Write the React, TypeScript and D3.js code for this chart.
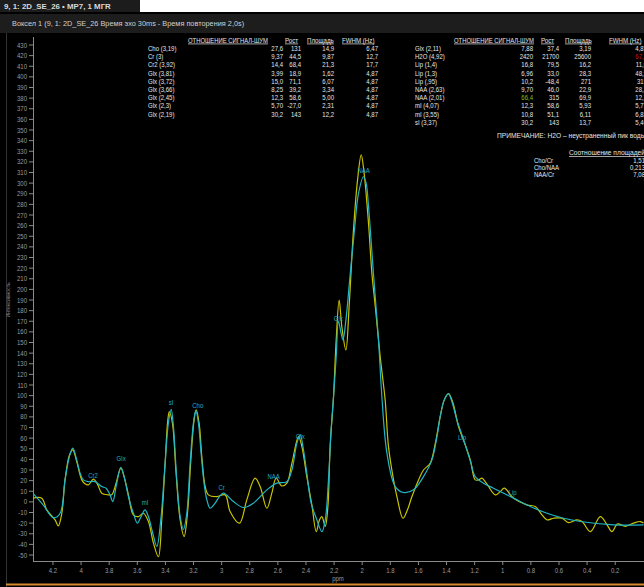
import React from "react";
import * as d3 from "d3";

// ---------- DATA ----------
const fitPpm = [4.342, 4.27, 4.197, 4.149, 4.114, 4.083, 4.059, 4.031, 4.007, 3.984, 3.948, 3.9, 3.853, 3.822, 3.794, 3.774, 3.751, 3.717, 3.694, 3.663, 3.628, 3.599, 3.573, 3.545, 3.521, 3.49, 3.461, 3.433, 3.402, 3.379, 3.359, 3.343, 3.319, 3.295, 3.272, 3.248, 3.224, 3.201, 3.184, 3.165, 3.146, 3.125, 3.105, 3.082, 3.046, 3.016, 2.987, 2.916, 2.845, 2.774, 2.678, 2.607, 2.536, 2.5, 2.465, 2.441, 2.418, 2.394, 2.363, 2.322, 2.287, 2.263, 2.24, 2.221, 2.204, 2.185, 2.169, 2.152, 2.137, 2.116, 2.085, 2.055, 2.026, 1.991, 1.972, 1.955, 1.92, 1.884, 1.86, 1.824, 1.765, 1.706, 1.635, 1.564, 1.504, 1.468, 1.445, 1.416, 1.386, 1.362, 1.326, 1.29, 1.255, 1.226, 1.196, 1.137, 1.066, 0.923, 0.804, 0.685, 0.567, 0.448, 0.211, -0.002];
const fitVal = [8, -2.8, -15, -10.7, 20.7, 42.6, 50.5, 39.5, 27, 20.7, 19, 19, 14.4, 12.9, 6.6, 0.3, 14.4, 32.6, 23.8, 5, -10.7, -20, -13.8, -7.5, -13.8, -29.5, -42, -17, 36.4, 74, 87, 71, 20.7, -13.8, -26, -10.7, 36.4, 74, 86, 74, 45.8, 17.6, 1.9, -6, -1.2, 5, 8.2, 0.3, -5.3, -1.2, 11.3, 17.6, 19, 30, 55, 63, 49, 27, -1.2, -17, -28, -17, 20.7, 68, 99, 136.7, 170, 160, 152.5, 171, 215, 256, 290.5, 306, 300, 278, 215, 152.5, 99, 45.8, 14.4, 8.8, 11.3, 23.8, 39.5, 61.5, 80.3, 96, 101.6, 94.4, 77, 63, 49, 36.4, 23.8, 17.6, 12.9, 3.5, -4.4, -10.7, -15.4, -18.5, -21.6, -21.6];

const rawPpm = [4.342, 4.28, 4.244, 4.185, 4.162, 4.137, 4.114, 4.083, 4.059, 4.031, 3.995, 3.972, 3.948, 3.912, 3.881, 3.853, 3.806, 3.782, 3.751, 3.717, 3.694, 3.663, 3.628, 3.592, 3.557, 3.521, 3.485, 3.45, 3.426, 3.402, 3.383, 3.372, 3.35, 3.324, 3.295, 3.267, 3.243, 3.219, 3.196, 3.181, 3.16, 3.141, 3.117, 3.094, 3.034, 2.975, 2.94, 2.873, 2.821, 2.762, 2.726, 2.678, 2.643, 2.612, 2.572, 2.536, 2.5, 2.453, 2.429, 2.394, 2.358, 2.327, 2.304, 2.287, 2.263, 2.244, 2.228, 2.204, 2.185, 2.164, 2.145, 2.116, 2.093, 2.062, 2.033, 2.007, 1.986, 1.955, 1.931, 1.907, 1.872, 1.836, 1.813, 1.777, 1.753, 1.71, 1.678, 1.646, 1.599, 1.564, 1.516, 1.48, 1.445, 1.416, 1.386, 1.354, 1.315, 1.267, 1.231, 1.196, 1.172, 1.148, 1.117, 1.053, 1.018, 0.989, 0.923, 0.828, 0.769, 0.721, 0.685, 0.638, 0.579, 0.532, 0.472, 0.436, 0.377, 0.306, 0.258, 0.223, 0.183, 0.128, 0.069, 0.021, -0.002];
const rawVal = [3.5, 3.5, -7.5, -17, -22.6, -10.7, 20.7, 44, 49, 38, 20.7, 17, 16, 21.4, 16, 8.2, 6.6, 6.6, 17.6, 31.7, 23.8, 6.6, -12.2, -13.8, -10.7, -18.5, -38.8, -51.5, -17, 36.4, 77, 85, 74, 27, -17, -32.6, -10.7, 39.5, 77, 86.6, 74, 42.6, 14.4, 6.6, 5, 6.6, -9, -20, 1.9, 22.3, 14.4, -6, 8.2, 22.3, 15, 17.6, 36.4, 61.5, 52, 23.8, -2.8, -28, -17, -13.8, -23, -4.4, 52, 99, 152.5, 190, 165, 143, 184, 256, 303, 326.6, 309, 262, 215, 184, 136.7, 95, 52, 20.7, 5, -15.4, -7.5, 5, 20.7, 30, 36.4, 55, 80.3, 96, 102, 93, 71, 53.6, 39.5, 20.7, 20.7, 22.3, 17.6, 6.6, 9.7, 12.9, 3.5, -2.8, -4.4, -12.2, -17, -15.4, -15.4, -19.5, -17, -18.5, -28, -13.8, -21.6, -28, -20.7, -23, -20, -18.5, -20];

const peakNames = ["Cr2", "Glx", "mI", "sI", "Cho", "Cr", "NAA", "Glx", "Glx", "NAA", "Lip", "Lip"];
const peakPpm = [3.915, 3.715, 3.545, 3.36, 3.17, 3.0, 2.63, 2.44, 2.17, 1.99, 1.29, 0.93];
const peakVal = [24.5, 40.5, -1, 94, 91, 14, 23.5, 62, 173, 312, 61, 8.5];

const yTickLabels = [430, 420, 410, 400, 390, 380, 370, 360, 350, 340, 330, 320, 310, 300, 290, 280, 270, 260, 250, 240, 230, 220, 210, 200, 190, 180, 170, 160, 150, 140, 130, 120, 110, 100, 90, 80, 70, 60, 50, 40, 30, 20, 10, 0, -10, -20, -30, -40, -50];
const xTickLabels = [4.2, 4, 3.8, 3.6, 3.4, 3.2, 3, 2.8, 2.6, 2.4, 2.2, 2, 1.8, 1.6, 1.4, 1.2, 1, 0.8, 0.6, 0.4, 0.2];

const tableHeaders = ["ОТНОШЕНИЕ СИГНАЛ-ШУМ", "Рост", "Площадь", "FWHM (Hz)"];
const leftNames = ["Cho (3,19)", "Cr (3)", "Cr2 (3,92)", "Glx (3,81)", "Glx (3,72)", "Glx (3,66)", "Glx (2,45)", "Glx (2,3)", "Glx (2,19)"];
const leftSnr = ["27,6", "9,37", "14,4", "3,99", "15,0", "8,25", "12,3", "5,70", "30,2"];
const leftHeight = ["131", "44,5", "68,4", "18,9", "71,1", "39,2", "58,6", "-27,0", "143"];
const leftArea = ["14,9", "9,87", "21,3", "1,62", "6,07", "3,34", "5,00", "2,31", "12,2"];
const leftFwhm = ["6,47", "12,7", "17,7", "4,87", "4,87", "4,87", "4,87", "4,87", "4,87"];

const rightNames = ["Glx (2,11)", "H2O (4,92)", "Lip (1,4)", "Lip (1,3)", "Lip (,95)", "NAA (2,63)", "NAA (2,01)", "mI (4,07)", "mI (3,55)", "sI (3,37)"];
const rightSnr = ["7,88", "2420", "16,8", "6,96", "10,2", "9,70", "66,4", "12,3", "10,8", "30,2"];
const rightHeight = ["37,4", "21700", "79,5", "33,0", "-48,4", "46,0", "315", "58,6", "51,1", "143"];
const rightArea = ["3,19", "25600", "16,2", "28,3", "271", "22,9", "69,9", "5,93", "6,11", "13,7"];
const rightFwhm = ["4,87", "67,1", "11,6", "48,9", "319", "28,3", "12,7", "5,77", "6,83", "5,46"];

const ratioNames = ["Cho/Cr", "Cho/NAA", "NAA/Cr"];
const ratioValues = ["1,51", "0,213", "7,08"];

// ---------- LAYOUT ----------
const W = 644, H = 587;
const FONT = "'Liberation Sans', Arial, sans-serif";
const plotLeft = 33, plotRight = 644, plotTop = 36, plotBottom = 561;

const x = d3.scaleLinear().domain([4.342, -0.002]).range([33, 643.6]);
const y = d3.scaleLinear().domain([-50, 430]).range([555, 45]);

const line = d3.line<[number, number]>().x(d => x(d[0])).y(d => y(d[1])).curve(d3.curveCatmullRom.alpha(0.5));

function T({ x: tx, y: ty, children, anchor = "start", fill = "#e6e6e6", size = 7, underline = false, bold = false, sx = 0.86 }: any) {
  return (
    <text transform={`translate(${tx},${ty}) scale(${sx},1)`} textAnchor={anchor} fill={fill}
      fontFamily={FONT} fontSize={size} fontWeight={bold ? "bold" : "normal"}
      textDecoration={underline ? "underline" : undefined}>{children}</text>
  );
}

function Table({ x0, names, cols, colRight, headerX, snrColors, fwhmColors }: any) {
  const rowY = (i: number) => 51 + i * 8.2;
  return (
    <g>
      {tableHeaders.map((h, k) => <T key={k} x={headerX[k]} y={42.5} underline sx={k === 0 ? 0.84 : 0.88}>{h}</T>)}
      {names.map((n: string, i: number) => (
        <g key={i}>
          <T x={x0} y={rowY(i)}>{n}</T>
          {cols.map((c: string[], j: number) => {
            let fill = "#e6e6e6";
            if (j === 0 && snrColors && snrColors[i]) fill = snrColors[i];
            if (j === 3 && fwhmColors && fwhmColors[i]) fill = fwhmColors[i];
            return <T key={j} x={colRight[j]} y={rowY(i)} anchor="end" fill={fill}>{c[i]}</T>;
          })}
        </g>
      ))}
    </g>
  );
}

export default function App() {
  const fitPts: [number, number][] = fitPpm.map((p, i) => [p, fitVal[i]]);
  const rawPts: [number, number][] = rawPpm.map((p, i) => [p, rawVal[i]]);
  return (
    <svg width={W} height={H} style={{ position: "absolute", left: 0, top: 0, display: "block" }}>
      <defs>
        <clipPath id="plotClip">
          <rect x={plotLeft} y={plotTop} width={plotRight - plotLeft} height={plotBottom - plotTop} />
        </clipPath>
      </defs>
      <rect x={0} y={0} width={W} height={H} fill="#000" />
      {/* top title bar */}
      <rect x={0} y={0} width={W} height={12} fill="#ffffff" />
      <rect x={0} y={0} width={140} height={12} fill="#1c1c1c" />
      <T x={4} y={8.5} bold fill="#d8d8d8" sx={1.05} size={7.5}>9, 1: 2D_SE_26 • MP7, 1 МГR</T>
      <rect x={0} y={12} width={W} height={2} fill="#000" />
      <rect x={0} y={14} width={W} height={19} fill="#1d1d1d" />
      <T x={12} y={26} fill="#cfcfcf" sx={0.98} size={7.5}>Воксел 1 (9, 1: 2D_SE_26 Время эхо  30ms - Время повторения 2,0s)</T>
      <line x1={6.5} x2={6.5} y1={33} y2={H} stroke="#333" />

      {/* tables */}
      <Table x0={148} names={leftNames} cols={[leftSnr, leftHeight, leftArea, leftFwhm]}
        colRight={[283, 301, 334, 378]} headerX={[188, 285, 307, 342]} />
      <Table x0={415} names={rightNames} cols={[rightSnr, rightHeight, rightArea, rightFwhm]}
        colRight={[533, 559, 591, 647]} headerX={[454, 541, 565, 609]}
        snrColors={[null, null, null, null, null, null, "#7dc21e"]}
        fwhmColors={[null, "#d01010"]} />
      <T x={497} y={138} sx={0.95}>ПРИМЕЧАНИЕ: H2O – неустраненный пик воды</T>
      <T x={569} y={155} underline sx={0.95}>Соотношение площадей</T>
      {ratioNames.map((n, i) => (
        <g key={n}>
          <T x={534} y={163 + i * 7.2}>{n}</T>
          <T x={645} y={163 + i * 7.2} anchor="end">{ratioValues[i]}</T>
        </g>
      ))}

      {/* axes */}
      <line x1={plotLeft + 0.5} x2={plotLeft + 0.5} y1={37} y2={plotBottom} stroke="#8a8a8a" />
      <line x1={plotLeft} x2={W} y1={plotBottom + 0.5} y2={plotBottom + 0.5} stroke="#8a8a8a" />
      {yTickLabels.map(t => (
        <g key={t}>
          <line x1={29} x2={33} y1={y(t)} y2={y(t)} stroke="#8a8a8a" />
          <T x={27} y={y(t) + 2.5} anchor="end" fill="#9a9a9a">{t}</T>
        </g>
      ))}
      {xTickLabels.map(t => (
        <g key={t}>
          <line x1={x(t)} x2={x(t)} y1={plotBottom} y2={plotBottom + 4} stroke="#8a8a8a" />
          <T x={x(t)} y={573} anchor="middle" fill="#9a9a9a">{t}</T>
        </g>
      ))}
      <T x={338} y={581} anchor="middle" fill="#9a9a9a">ppm</T>
      <text transform="translate(10,300) rotate(-90) scale(0.84,1)" textAnchor="middle" fontFamily={FONT} fontSize={6} fill="#8a8a8a">Интенсивность</text>
      <line x1={6} x2={W} y1={584.5} y2={584.5} stroke="#d98a2b" strokeWidth={2} />

      {/* curves */}
      <g clipPath="url(#plotClip)">
        <path d={line(rawPts) || ""} fill="none" stroke="#c9c400" strokeWidth={1.2} />
        <path d={line(fitPts) || ""} fill="none" stroke="#1fb6c6" strokeWidth={1.2} />
      </g>
      {peakNames.map((n, i) => (
        <T key={i} x={x(peakPpm[i])} y={y(peakVal[i]) + 2.5} anchor="middle" fill="#1fb0c4">{n}</T>
      ))}
    </svg>
  );
}
